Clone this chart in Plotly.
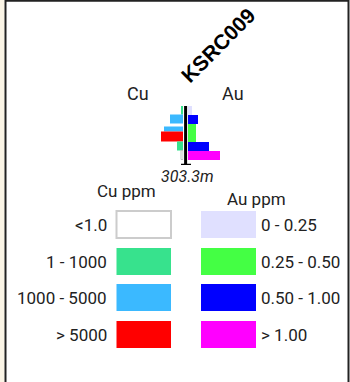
import plotly.graph_objects as go

W, H = 350, 382

hole_id = "KSRC009"
total_depth = 303.3

# Cu intervals (depth m) and bar lengths (relative units)
cu_from = [0, 46, 108, 134, 185, 231]
cu_to = [46, 93, 134, 185, 231, 278]
cu_len = [2, 13, 19, 22, 6, 2]
cu_class = [1, 2, 2, 3, 1, 0]

# Au intervals
au_from = [0, 46, 93, 185, 231]
au_to = [46, 93, 185, 231, 278]
au_len = [4, 10, 8, 21, 32]
au_class = [0, 2, 1, 2, 3]

cu_labels = ["<1.0", "1 - 1000", "1000 - 5000", "> 5000"]
cu_colors = ["#ffffff", "#37e28d", "#3bb9ff", "#ff0000"]
au_labels = ["0 - 0.25", "0.25 - 0.50", "0.50 - 1.00", "> 1.00"]
au_colors = ["#e0e0ff", "#44ff44", "#0000ff", "#ff00ff"]


def px(x):
    return x / W


def py(y):
    return 1 - y / H


fig = go.Figure()

fig.add_trace(go.Bar(
    orientation="h",
    x=cu_len,
    y=[(a + b) / 2 for a, b in zip(cu_from, cu_to)],
    width=[b - a for a, b in zip(cu_from, cu_to)],
    marker=dict(color=[cu_colors[c] for c in cu_class],
                line=dict(color=["#bbbbbb" if c == 0 else "rgba(0,0,0,0)" for c in cu_class], width=1)),
    xaxis="x", yaxis="y", hoverinfo="skip", showlegend=False,
))
fig.add_trace(go.Bar(
    orientation="h",
    x=au_len,
    y=[(a + b) / 2 for a, b in zip(au_from, au_to)],
    width=[b - a for a, b in zip(au_from, au_to)],
    marker=dict(color=[au_colors[c] for c in au_class], line=dict(width=0)),
    xaxis="x2", yaxis="y", hoverinfo="skip", showlegend=False,
))

shapes = []
# page background strip and frame
shapes.append(dict(type="rect", xref="paper", yref="paper", x0=0, x1=px(4.5), y0=0, y1=1,
                   fillcolor="#fbf5e6", line=dict(width=0), layer="below"))
shapes.append(dict(type="rect", xref="paper", yref="paper", x0=px(5.5), x1=px(348.5), y0=py(390), y1=py(0.8),
                   fillcolor="rgba(0,0,0,0)", line=dict(color="#222222", width=2)))
# hole trace
shapes.append(dict(type="line", xref="paper", yref="y", x0=px(185.6), x1=px(185.6), y0=0, y1=total_depth,
                   line=dict(color="black", width=3)))
shapes.append(dict(type="line", xref="paper", yref="y", x0=px(181), x1=px(191), y0=total_depth, y1=total_depth,
                   line=dict(color="black", width=2.5)))

annotations = []
annotations.append(dict(text="<b>%s</b>" % hole_id, x=px(219), y=py(45), xref="paper", yref="paper",
                        showarrow=False, textangle=-45, xanchor="center", yanchor="middle",
                        font=dict(family="Liberation Sans", size=21, color="black")))
annotations.append(dict(text="Cu", x=px(138), y=py(93), xref="paper", yref="paper", showarrow=False,
                        xanchor="center", yanchor="middle", font=dict(family="Roboto", size=18, color="#222")))
annotations.append(dict(text="Au", x=px(233), y=py(93), xref="paper", yref="paper", showarrow=False,
                        xanchor="center", yanchor="middle", font=dict(family="Roboto", size=18, color="#222")))
annotations.append(dict(text="<i>%sm</i>" % total_depth, x=px(187), y=py(176), xref="paper", yref="paper",
                        showarrow=False, xanchor="center", yanchor="middle",
                        font=dict(family="Roboto", size=16, color="#222")))
annotations.append(dict(text="Cu ppm", x=px(126), y=py(191), xref="paper", yref="paper", showarrow=False,
                        xanchor="center", yanchor="middle", font=dict(family="Roboto", size=17, color="#222")))
annotations.append(dict(text="Au ppm", x=px(256), y=py(199), xref="paper", yref="paper", showarrow=False,
                        xanchor="center", yanchor="middle", font=dict(family="Roboto", size=17, color="#222")))

row_top = [211, 248, 284, 321]
for i in range(4):
    t = row_top[i]
    b = t + 27
    shapes.append(dict(type="rect", xref="paper", yref="paper", x0=px(116.5), x1=px(171), y0=py(b), y1=py(t),
                       fillcolor=cu_colors[i],
                       line=dict(color="#cccccc" if i == 0 else cu_colors[i], width=2 if i == 0 else 0)))
    shapes.append(dict(type="rect", xref="paper", yref="paper", x0=px(201), x1=px(256), y0=py(b), y1=py(t),
                       fillcolor=au_colors[i], line=dict(width=0)))
    annotations.append(dict(text=cu_labels[i], x=px(109), y=py(t + 14), xref="paper", yref="paper",
                            showarrow=False, xanchor="right", yanchor="middle",
                            font=dict(family="Roboto", size=17, color="#222")))
    annotations.append(dict(text=au_labels[i], x=px(259), y=py(t + 14), xref="paper", yref="paper",
                            showarrow=False, xanchor="left", yanchor="middle",
                            font=dict(family="Roboto", size=17, color="#222")))

fig.update_layout(
    width=W, height=H, autosize=False,
    margin=dict(l=0, r=0, t=0, b=0),
    paper_bgcolor="white", plot_bgcolor="rgba(0,0,0,0)",
    barmode="overlay", bargap=0,
    xaxis=dict(domain=[px(159.5), px(183.5)], range=[24, 0], visible=False, fixedrange=True),
    xaxis2=dict(domain=[px(187.5), px(221.5)], range=[0, 34], visible=False, fixedrange=True, anchor="y"),
    yaxis=dict(domain=[py(165), py(106)], range=[total_depth, 0], visible=False, fixedrange=True),
    shapes=shapes,
    annotations=annotations,
)

fig.write_html("out.html", config={"displayModeBar": False},
               post_script="document.body.style.margin='0px';document.body.style.overflow='hidden';")
